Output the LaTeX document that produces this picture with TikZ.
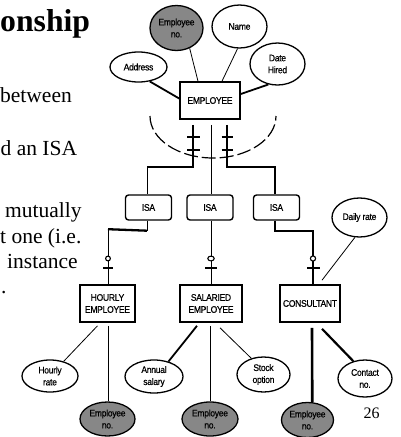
\documentclass[tikz,border=0pt]{standalone}
\usepackage{fontspec}
\setmainfont{Liberation Serif}
\newfontfamily\labfont[FakeStretch=0.9, FakeBold=0.5, LetterSpace=-3]{Liberation Sans}
\usetikzlibrary{shapes.geometric,calc}
\definecolor{attrgray}{RGB}{135,135,135}
\begin{document}
\begin{tikzpicture}[x=1pt,y=-1pt,
  lab/.style={font=\labfont\fontsize{9.5}{12}\selectfont, align=center, inner sep=0pt},
  attr/.style={lab, ellipse, draw, line width=1.3pt, fill=white},
  keyattr/.style={attr, fill=attrgray},
  entity/.style={lab, rectangle, draw, line width=1.6pt, fill=white},
  isabox/.style={lab, rectangle, rounded corners=3pt, draw, line width=1.4pt, minimum width=46pt, minimum height=25pt},
  thinline/.style={line width=0.8pt},
  thickline/.style={line width=2.3pt},
  barmark/.style={line width=2.5pt},
  ringmark/.style={line width=1.1pt, fill=white},
  bodytext/.style={font=\fontsize{21.5}{25}\selectfont, anchor=base west, inner sep=0pt},
]
\useasboundingbox (0,0) rectangle (400,437);
\clip (0,0) rectangle (400,437);

% slide text
\node[font=\bfseries\fontsize{31.7}{36}\selectfont, anchor=base west, inner sep=0pt] (title) at (0,31) {onship};
\node[bodytext] (t1) at (0,102) {between};
\node[bodytext] (t2) at (0.5,155) {d an ISA};
\node[bodytext] (t3) at (5,217) {mutually};
\node[bodytext] (t4) at (0,243) {t one (i.e.};
\node[bodytext] (t5) at (7,268) {instance};
\node[bodytext] (t6) at (1,293) {.};
\node[font=\fontsize{16}{18}\selectfont, inner sep=0pt] (page) at (371.5,413) {26};

% entities
\node[entity, minimum width=60pt, minimum height=37pt] (employee) at (210,100.5) {EMPLOYEE};
\node[entity, minimum width=55pt, minimum height=37pt] (hourly) at (107.5,303.5) {HOURLY\\EMPLOYEE};
\node[entity, minimum width=62pt, minimum height=37pt] (salaried) at (211,303.5) {SALARIED\\EMPLOYEE};
\node[entity, minimum width=60pt, minimum height=37pt] (consultant) at (310,303.5) {CONSULTANT};

% ISA boxes
\node[isabox] (isa1) at (148.5,207.5) {ISA};
\node[isabox] (isa2) at (210,207.5) {ISA};
\node[isabox] (isa3) at (276.5,207.5) {ISA};

% attributes
\node[keyattr, minimum width=53pt, minimum height=45pt] (empno1) at (176.5,28) {Employee\\no.};
\node[attr, minimum width=55pt, minimum height=43pt] (name) at (239.5,26.5) {Name};
\node[attr, minimum width=55pt, minimum height=42pt] (datehired) at (277.5,64) {Date\\Hired};
\node[attr, minimum width=57pt, minimum height=30pt] (address) at (138.5,67) {Address};
\node[attr, minimum width=55pt, minimum height=39pt] (dailyrate) at (359.5,217.5) {Daily rate};
\node[attr, minimum width=56pt, minimum height=32pt] (hourlyrate) at (50,376) {Hourly\\rate};
\node[keyattr, minimum width=55pt, minimum height=34pt] (empno2) at (107.5,419) {Employee\\no.};
\node[attr, minimum width=58pt, minimum height=33pt] (annual) at (154,376.5) {Annual\\salary};
\node[keyattr, minimum width=56pt, minimum height=34pt] (empno3) at (210,419) {Employee\\no.};
\node[attr, minimum width=53pt, minimum height=35pt] (stock) at (263.5,374.5) {Stock\\option};
\node[keyattr, minimum width=52pt, minimum height=35pt] (empno4) at (307.5,420) {Employee\\no.};
\node[attr, minimum width=54pt, minimum height=37pt] (contact) at (365,378.5) {Contact\\no.};

% attribute connectors
\draw[thickline, line width=1.8pt] (address.-52) -- ($(employee.west)+(0,-2)$);
\draw[thinline] (empno1.-57) -- ($(employee.north)+(-12,0)$);
\draw[thinline] (name.-95) -- ($(employee.north)+(12,0)$);
\draw[thickline, line width=1.8pt] (datehired.-114) -- ($(employee.east)+(0,-6.5)$);
\draw[thinline] (dailyrate.-103) -- ($(consultant.north)+(12,-4)$);
\draw[thinline] ($(hourly.south)+(-10,3)$) -- (hourlyrate.47);
\draw[thinline] ($(hourly.south)+(0.5,3)$) -- ($(empno2.north)+(0.5,0)$);
\draw[thickline, line width=1.8pt] ($(salaried.south)+(-14,3)$) -- (annual.46);
\draw[thinline] ($(salaried.south)+(-1,3)$) -- ($(empno3.north)+(0,0)$);
\draw[thinline] ($(salaried.south)+(9,5)$) -- (stock.127);
\draw[thickline, line width=2.6pt] ($(consultant.south)+(2,5)$) -- (empno4.75);
\draw[thickline, line width=2.2pt] ($(consultant.south)+(12,6)$) -- (contact.124);

% dashed ISA arc
\draw[line width=1.2pt, dash pattern=on 14pt off 4pt] (150,116) arc[start angle=180, end angle=360, x radius=63pt, y radius=42pt];

% supertype to ISA
\draw[thickline] ($(employee.south)+(-17,5)$) |- ($(isa1.north)+(-1.5,-27)$) coordinate (jl);
\draw[thinline] (jl) -- ($(isa1.north)+(-1.5,0)$);
\draw[thinline] ($(employee.south)+(1,5)$) -- ($(isa2.north)+(1,0)$);
\draw[thickline] ($(employee.south)+(17,5)$) |- ($(isa3.north)+(-1.5,-27)$) -- ($(isa3.north)+(-1.5,0)$);
\draw[barmark] (187,137) -- (200,137);
\draw[barmark] (187,150) -- (200,150);
\draw[barmark] (221.5,137) -- (233,137);
\draw[barmark] (221.5,150) -- (233,150);

% ISA to subtypes
\draw[thinline] ($(isa1.south)+(-1.5,0)$) -- ++(0,10) coordinate (h1);
\draw[thickline] (h1) -- ($(hourly.north)+(0.5,-55)$) coordinate (h2);
\draw[thinline] (h2) -- ($(hourly.north)+(0.5,0)$);
\draw[thinline] ($(isa2.south)+(1,0)$) -- (salaried.north);
\draw[thickline] ($(isa3.south)+(-1.5,0)$) -- ++(0,10) -| ($(consultant.north)+(3,0)$);

% optional marks
\draw[ringmark] (108,258.5) circle[radius=2.4pt];
\draw[barmark] (103,268) -- (113,268);
\draw[ringmark] (211,258.5) ellipse[x radius=3.2pt, y radius=2.4pt];
\draw[barmark] (205,268) -- (217,268);
\draw[ringmark] (313,258.5) circle[radius=2.6pt];
\draw[barmark] (307,268) -- (320,268);
\end{tikzpicture}
\end{document}
